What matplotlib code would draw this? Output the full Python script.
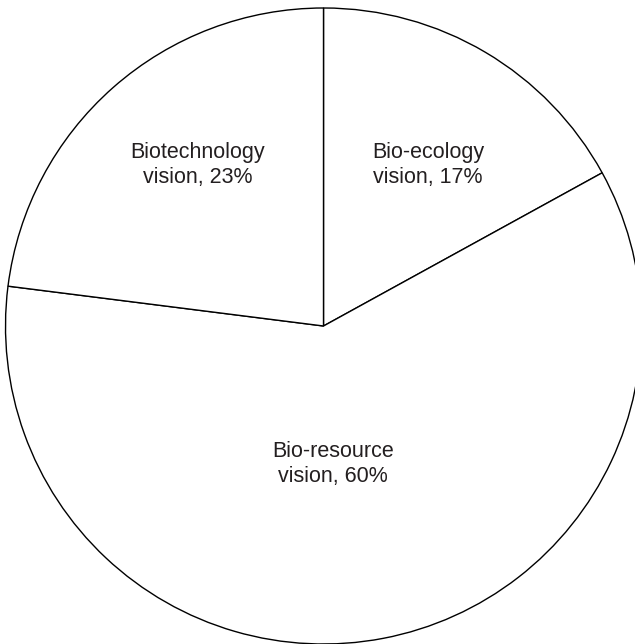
import matplotlib
matplotlib.use('Agg')
import matplotlib.pyplot as plt

# dados do gráfico
categorias = ['Bio-ecology\nvision, 17%', 'Bio-resource\nvision, 60%', 'Biotechnology\nvision, 23%']
valores = [17, 60, 23]

plt.rcParams['font.family'] = ['Liberation Sans', 'DejaVu Sans']

fig = plt.figure(figsize=(6.35, 6.44), dpi=100)
ax = fig.add_axes([0, 0, 1, 1])

# pizza branca com bordas pretas, começando no topo e no sentido horário
ax.pie(valores, startangle=90, counterclock=False, radius=1.0,
       colors=['white'] * len(valores),
       wedgeprops=dict(edgecolor='black', linewidth=1.0))

# enquadramento: centro em (323.5, 326) px, raio 318 px
cx, cy, r = 323.5, 326.0, 318.0
ax.set_xlim(-cx / r, (635 - cx) / r)
ax.set_ylim(-(644 - cy) / r, cy / r)
ax.set_aspect('auto')
ax.axis('off')

# posições dos rótulos (em pixels da imagem)
pos_rotulos = [(428, 165), (333, 464), (197.5, 165)]
for texto, (px, py) in zip(categorias, pos_rotulos):
    ax.text((px - cx) / r, (cy - py) / r, texto, ha='center', va='center',
            fontsize=15.5, color='#231f20', linespacing=1.25)

plt.savefig('out.png', dpi=100)
